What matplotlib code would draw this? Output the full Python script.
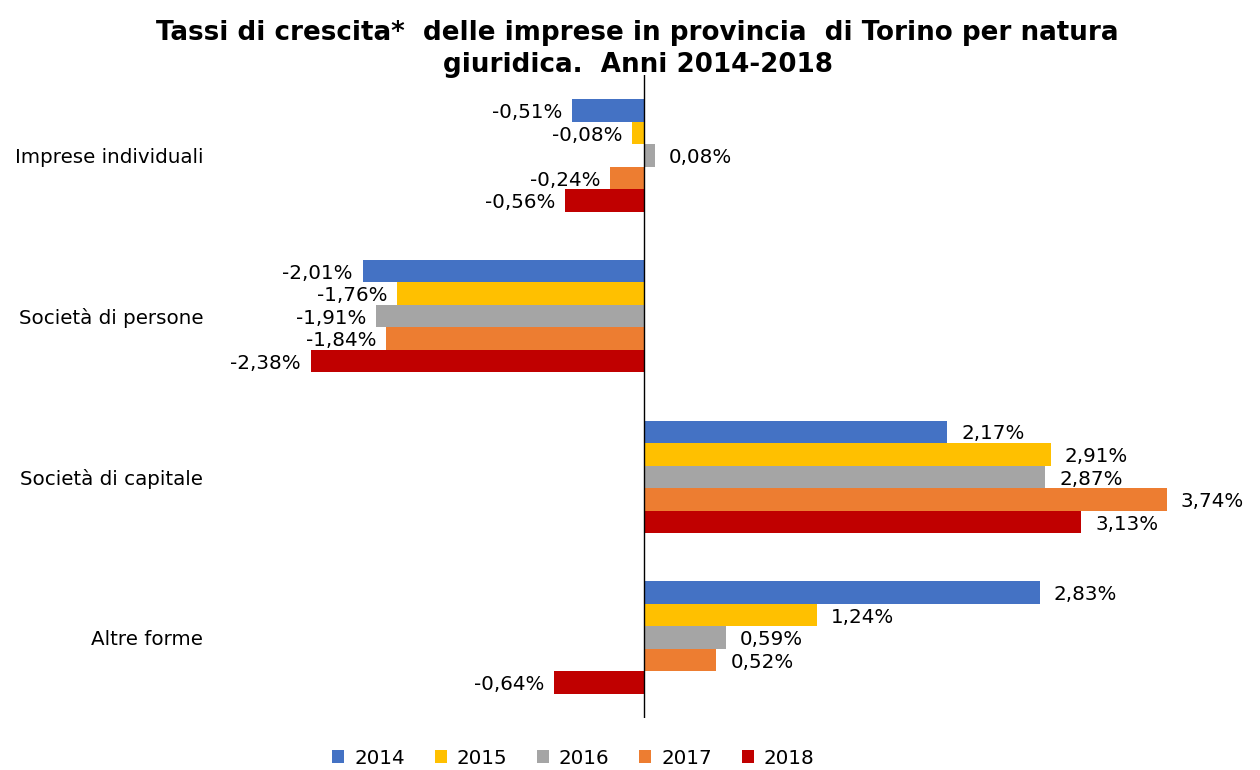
import matplotlib.pyplot as plt
import numpy as np

categories = ["Imprese individuali", "Società di persone", "Società di capitale", "Altre forme"]
years = ["2014", "2015", "2016", "2017", "2018"]
colors = ["#4472C4", "#FFC000", "#A5A5A5", "#ED7D31", "#C00000"]

v2014 = [-0.51, -2.01, 2.17, 2.83]
v2015 = [-0.08, -1.76, 2.91, 1.24]
v2016 = [0.08, -1.91, 2.87, 0.59]
v2017 = [-0.24, -1.84, 3.74, 0.52]
v2018 = [-0.56, -2.38, 3.13, -0.64]
series = [v2014, v2015, v2016, v2017, v2018]

fig = plt.figure(figsize=(12.6, 7.7), dpi=100)
ax = fig.add_axes([0.1667, 0.0675, 0.766, 0.835])

y = np.arange(len(categories))
h = 0.14
fs = 14.3
for i, (vals, col, yr) in enumerate(zip(series, colors, years)):
    pos = y - 2 * h + i * h
    ax.barh(pos, vals, height=h, color=col, label=yr)
    for p, v in zip(pos, vals):
        txt = f"{v:.2f}".replace(".", ",") + "%"
        if v >= 0:
            ax.annotate(txt, (v, p), xytext=(10, -1.5), textcoords="offset points",
                        ha="left", va="center", fontsize=fs)
        else:
            ax.annotate(txt, (v, p), xytext=(-7, -1.5), textcoords="offset points",
                        ha="right", va="center", fontsize=fs)

ax.set_xlim(-3.1, 3.8)
ax.set_ylim(3.5, -0.5)
ax.axvline(0, color="black", lw=1)
ax.set_yticks(y)
ax.set_yticklabels(categories, fontsize=fs)
ax.tick_params(axis="y", length=0, pad=5)
ax.set_xticks([])
for s in ax.spines.values():
    s.set_visible(False)

fig.text(0.506, 0.937, "Tassi di crescita*  delle imprese in provincia  di Torino per natura\ngiuridica.  Anni 2014-2018",
         ha="center", va="center", fontsize=18.8, fontweight="bold", linespacing=1.3)

fig.legend(loc="lower center", bbox_to_anchor=(0.455, -0.02), ncol=5, frameon=False,
           fontsize=fs, handlelength=0.6, handleheight=0.6, columnspacing=1.5, handletextpad=0.5)

fig.savefig("out.png", dpi=100)
